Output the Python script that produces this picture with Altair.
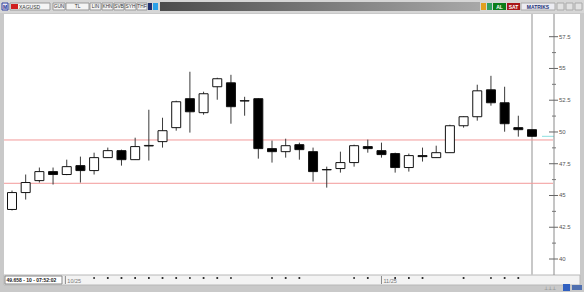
import altair as alt
import pandas as pd

# ---------------- data ----------------
candle_index = list(range(39))
opens  = [43.90, 45.23, 46.17, 46.88, 46.65, 47.35, 46.96, 47.98, 48.53, 47.82,
          48.90, 49.24, 50.34, 52.62, 51.52, 53.56, 53.87, 52.46, 52.62, 48.69,
          48.45, 49.00, 48.45, 47.04, 47.12, 47.59, 48.85, 48.53, 48.30, 47.20,
          48.14, 47.98, 48.37, 50.49, 51.20, 53.32, 52.30, 50.34, 50.18]
highs  = [45.39, 46.65, 47.20, 47.20, 47.82, 48.06, 48.37, 48.77, 48.61, 49.55,
          51.75, 51.12, 52.46, 54.74, 53.17, 54.27, 54.50, 52.77, 52.65, 49.32,
          49.47, 49.16, 48.77, 47.27, 48.45, 49.00, 49.40, 49.16, 48.37, 48.30,
          48.77, 48.92, 50.57, 51.22, 53.72, 54.42, 53.56, 51.28, 50.18]
lows   = [43.82, 44.68, 46.02, 45.86, 46.60, 46.02, 46.65, 47.95, 47.35, 47.80,
          47.75, 48.77, 50.10, 49.95, 51.36, 52.54, 50.65, 51.28, 47.90, 47.59,
          47.98, 47.82, 46.10, 45.62, 46.80, 47.27, 48.37, 47.98, 46.80, 46.88,
          47.67, 47.98, 48.37, 50.34, 50.89, 52.07, 50.02, 49.63, 49.63]
closes = [45.23, 46.02, 46.88, 46.65, 47.27, 46.96, 47.98, 48.53, 47.82, 48.85,
          48.94, 50.10, 52.38, 51.59, 53.01, 54.19, 51.99, 52.44, 48.69, 48.45,
          48.92, 48.61, 46.88, 47.02, 47.59, 48.92, 48.69, 48.22, 47.20, 48.14,
          48.06, 48.37, 50.49, 51.20, 53.24, 52.30, 50.65, 50.18, 49.66]

support_levels = [49.37, 45.96]
last_price = 49.658
status_text = "49.658 - 10 - 07:52:02"

y_major = [40, 42.5, 45, 47.5, 50, 52.5, 55, 57.5]
y_minor = [41.25, 43.75, 46.25, 48.75, 51.25, 53.75, 56.25]
x_dot_idx = [6, 7, 8, 9, 10, 11, 12, 13, 14, 15, 16, 19, 20, 21,
             25, 26, 28, 29, 30, 33, 35, 36, 37]
date_labels = ["10/25", "11/25"]
date_label_idx = [3.9, 27]

toolbar_items = ["GUN", "TL", "LIN", "KHN", "SVB", "SYH", "THF"]

# ---------------- frames ----------------
df = pd.DataFrame({"i": candle_index, "open": opens, "high": highs,
                   "low": lows, "close": closes})
df["dir"] = ["up" if c >= o else "down" for o, c in zip(opens, closes)]

xs = alt.Scale(domain=[0, 38], range=[7, 537])
ys = alt.Scale(domain=[40, 57.5], range=[259, 36.7])
one = alt.Data(values=[{"k": 0}])


def box(x1, x2, y1, y2, fill, stroke=None, sw=1):
    kw = dict(fill=fill)
    if stroke:
        kw.update(stroke=stroke, strokeWidth=sw)
    return alt.Chart(one).mark_rect(**kw).encode(
        x=alt.value(x1), x2=alt.value(x2), y=alt.value(y1), y2=alt.value(y2))


def label(x, y, s, size=5.5, color="#333", align="center", weight="normal"):
    return alt.Chart(one).mark_text(
        text=s, fontSize=size, color=color, align=align, baseline="middle",
        font="Liberation Sans", fontWeight=weight).encode(
        x=alt.value(x), y=alt.value(y))


layers = []
# window chrome
layers.append(box(0, 584, 0, 292, "#c9c9c9"))
layers.append(box(4, 580, 14, 275, "#ffffff"))
layers.append(box(4, 580, 275, 285, "#f3f3f3", "#b8b8b8"))
layers.append(box(0, 584, 0, 13, "#d6d6d6"))
layers.append(alt.Chart(one).mark_rect(
    fill=alt.LinearGradient(gradient="linear",
                            stops=[alt.GradientStop(color="#4c4c4c", offset=0),
                                   alt.GradientStop(color="#a8a8a8", offset=1)],
                            x1=0, x2=1, y1=0, y2=0)).encode(
    x=alt.value(160), x2=alt.value(480), y=alt.value(2), y2=alt.value(11)))

# toolbar left
layers.append(box(2, 8, 3, 10, "#e8e8f4", "#3040a0"))
layers.append(label(5, 6.5, "M", 5, "#203090", weight="bold"))
layers.append(box(10, 50, 3, 10, "#f4f4f4", "#999"))
layers.append(box(11, 18, 4, 9, "#d02020"))
layers.append(label(19, 6.5, "XAGUSD", 5, "#333", align="left"))
tb_x = [(53, 65), (66, 89), (90, 101), (102, 113), (114, 124), (125, 136), (137, 147)]
for (a, b), t in zip(tb_x, toolbar_items):
    layers.append(box(a, b, 3, 10, "#f4f4f4", "#999"))
    layers.append(label((a + b) / 2, 6.5, t, 4.8, "#333"))
layers.append(box(148, 152, 3, 10, "#203070"))
layers.append(box(153, 158, 3, 10, "#2aa0e8"))

# toolbar right
layers.append(box(481, 486, 3, 10, "#e0a020"))
layers.append(box(487, 492, 3, 10, "#30a060"))
layers.append(box(493, 506, 3, 10, "#0b7d1a"))
layers.append(label(499.5, 6.5, "AL", 5, "#ffffff", weight="bold"))
layers.append(box(507, 520, 3, 10, "#a8161a"))
layers.append(label(513.5, 6.5, "SAT", 5, "#ffffff", weight="bold"))
layers.append(box(521, 555, 3, 10, "#ececf2", "#aaa"))
layers.append(label(538, 6.5, "MATRIKS", 5, "#223377", weight="bold"))
for a in (557, 566, 575):
    layers.append(box(a, a + 7, 3, 10, "#e2e2e2", "#aaa"))

# cursor line behind candles
layers.append(alt.Chart(alt.Data(values=[{"i": 38}])).mark_rule(
    color="#c8c8c8", strokeWidth=2).encode(
    x=alt.X("i:Q", scale=xs, axis=None), y=alt.value(14), y2=alt.value(275)))

# support lines
sup = pd.DataFrame({"level": support_levels})
layers.append(alt.Chart(sup).mark_rule(color="#f29a9a", strokeWidth=1).encode(
    y=alt.Y("level:Q", scale=ys, axis=None), x=alt.value(4), x2=alt.value(553)))

# last price marker
layers.append(alt.Chart(pd.DataFrame({"p": [last_price]})).mark_rule(
    color="#8ee0e0", strokeWidth=1).encode(
    y=alt.Y("p:Q", scale=ys, axis=None), x=alt.value(542), x2=alt.value(554)))

# candles
base = alt.Chart(df).encode(x=alt.X("i:Q", scale=xs, axis=None))
layers.append(base.mark_rule(color="#3a3a3a", strokeWidth=1).encode(
    y=alt.Y("low:Q", scale=ys, axis=None), y2="high:Q"))
layers.append(base.mark_bar(size=9, stroke="#111", strokeWidth=1).encode(
    y=alt.Y("open:Q", scale=ys, axis=None), y2="close:Q",
    fill=alt.Fill("dir:N", scale=alt.Scale(domain=["up", "down"],
                                           range=["#ffffff", "#000000"]),
                  legend=None)))

# y axis (drawn on the right)
layers.append(alt.Chart(one).mark_rule(color="#8a8a8a", strokeWidth=1).encode(
    x=alt.value(554), y=alt.value(14), y2=alt.value(275)))
maj = pd.DataFrame({"v": y_major, "t": [f"{v:g}" for v in y_major]})
layers.append(alt.Chart(maj).mark_rule(color="#666", strokeWidth=1).encode(
    y=alt.Y("v:Q", scale=ys, axis=None), x=alt.value(549), x2=alt.value(558)))
layers.append(alt.Chart(maj).mark_text(
    align="left", baseline="middle", fontSize=6, color="#555",
    font="Liberation Sans").encode(
    y=alt.Y("v:Q", scale=ys, axis=None), x=alt.value(559), text="t:N"))
mnr = pd.DataFrame({"v": y_minor})
layers.append(alt.Chart(mnr).mark_rule(color="#777", strokeWidth=1).encode(
    y=alt.Y("v:Q", scale=ys, axis=None), x=alt.value(552), x2=alt.value(556)))

# x axis dots and date labels
dots = pd.DataFrame({"i": x_dot_idx})
layers.append(alt.Chart(dots).mark_square(size=3, color="#111", opacity=1).encode(
    x=alt.X("i:Q", scale=xs, axis=None), y=alt.value(278)))
dl = pd.DataFrame({"i": date_label_idx, "t": date_labels})
layers.append(alt.Chart(dl).mark_rule(color="#888").encode(
    x=alt.X("i:Q", scale=xs, axis=None), y=alt.value(276), y2=alt.value(284)))
layers.append(alt.Chart(dl).mark_text(
    align="left", baseline="middle", fontSize=5.5, color="#777", dx=2,
    font="Liberation Sans").encode(
    x=alt.X("i:Q", scale=xs, axis=None), y=alt.value(281), text="t:N"))

# status box
layers.append(box(5, 62, 276, 284, "#ffffff", "#888"))
layers.append(label(6.5, 280, status_text, 5, "#222", align="left", weight="bold"))

# bottom-right icons
layers.append(box(563, 570, 284, 291, "#3060c0"))
layers.append(box(572, 582, 285, 290, "#5070b0"))
layers.append(label(550, 287.5, "\u22a5\u22a5\u22a5", 5, "#777"))

chart = alt.layer(*layers).properties(
    width=584, height=292, padding=0,
    autosize=alt.AutoSizeParams(type="none")
).configure_view(stroke=None).configure(background="#c9c9c9")

chart.save("out.html", embed_options={"renderer": "svg", "actions": False})
